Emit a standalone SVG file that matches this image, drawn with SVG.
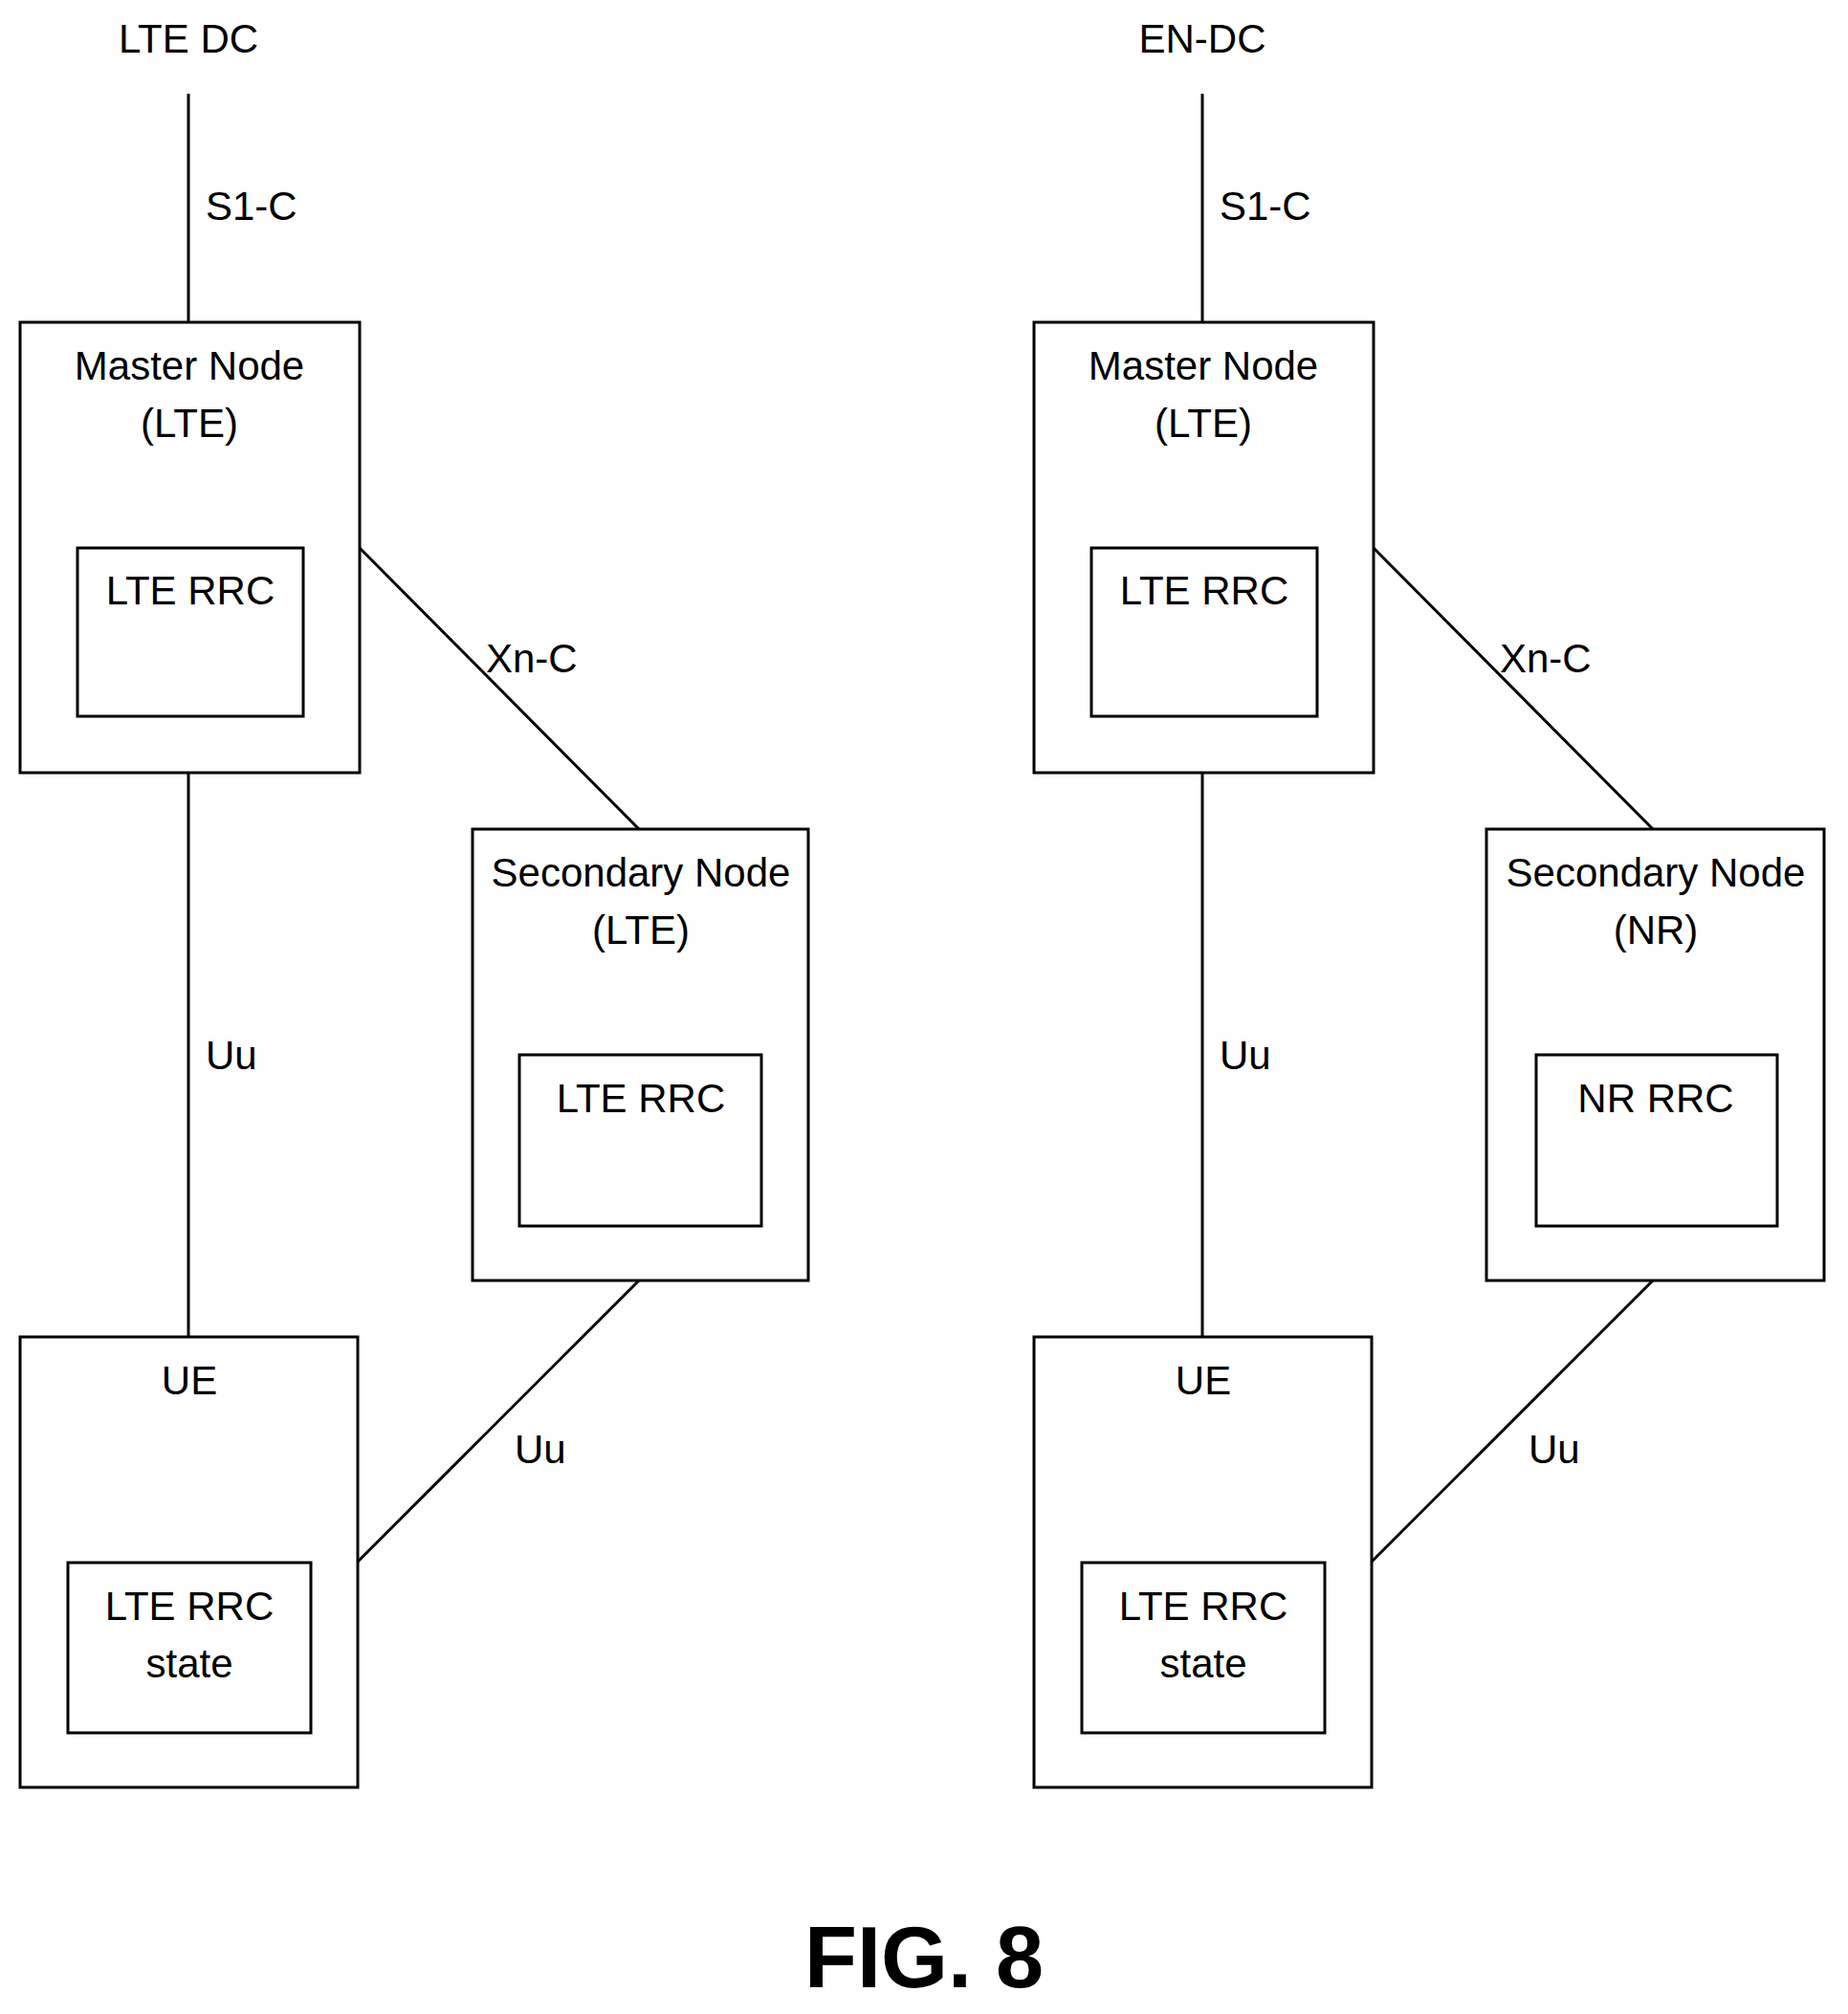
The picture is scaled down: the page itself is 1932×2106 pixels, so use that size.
<svg xmlns="http://www.w3.org/2000/svg" width="1932" height="2106" viewBox="0 0 1932 2106">
<style>
rect{fill:none;stroke:#000;stroke-width:3}
line{stroke:#000;stroke-width:3}
text{font-family:"Liberation Sans",Arial,sans-serif;font-size:42px;text-anchor:middle;fill:#000}
.l{text-anchor:start}
</style>
<rect x="0" y="0" width="1932" height="2106" style="fill:#fff;stroke:none"/>
<g id="connectors">
<line x1="197" y1="98" x2="197" y2="337"/>
<line x1="376" y1="573" x2="668" y2="867"/>
<line x1="197" y1="808" x2="197" y2="1398"/>
<line x1="668" y1="1339" x2="374" y2="1633"/>
<line x1="1257" y1="98" x2="1257" y2="337"/>
<line x1="1436" y1="573" x2="1728" y2="867"/>
<line x1="1257" y1="808" x2="1257" y2="1398"/>
<line x1="1728" y1="1339" x2="1434" y2="1633"/>
</g>
<g id="labels">
<text x="197" y="55">LTE DC</text>
<text class="l" x="215" y="230">S1-C</text>
<text class="l" x="508" y="703">Xn-C</text>
<text class="l" x="215" y="1118">Uu</text>
<text class="l" x="538" y="1530">Uu</text>
<text x="1257" y="55">EN-DC</text>
<text class="l" x="1275" y="230">S1-C</text>
<text class="l" x="1568" y="703">Xn-C</text>
<text class="l" x="1275" y="1118">Uu</text>
<text class="l" x="1598" y="1530">Uu</text>
</g>
<g id="mn1"><rect x="21" y="337" width="355" height="471"/><text x="198" y="397">Master Node</text><text x="198" y="457">(LTE)</text>
<rect x="81" y="573" width="236" height="176"/><text x="199" y="632">LTE RRC</text></g>
<g id="sn1"><rect x="494" y="867" width="351" height="472"/><text x="670" y="927">Secondary Node</text><text x="670" y="987">(LTE)</text>
<rect x="543" y="1103" width="253" height="179"/><text x="670" y="1163">LTE RRC</text></g>
<g id="ue1"><rect x="21" y="1398" width="353" height="471"/><text x="198" y="1458">UE</text>
<rect x="71" y="1634" width="254" height="178"/><text x="198" y="1694">LTE RRC</text><text x="198" y="1754">state</text></g>
<g id="mn2"><rect x="1081" y="337" width="355" height="471"/><text x="1258" y="397">Master Node</text><text x="1258" y="457">(LTE)</text>
<rect x="1141" y="573" width="236" height="176"/><text x="1259" y="632">LTE RRC</text></g>
<g id="sn2"><rect x="1554" y="867" width="353" height="472"/><text x="1731" y="927">Secondary Node</text><text x="1731" y="987">(NR)</text>
<rect x="1606" y="1103" width="252" height="179"/><text x="1731" y="1163">NR RRC</text></g>
<g id="ue2"><rect x="1081" y="1398" width="353" height="471"/><text x="1258" y="1458">UE</text>
<rect x="1131" y="1634" width="254" height="178"/><text x="1258" y="1694">LTE RRC</text><text x="1258" y="1754">state</text></g>
<text x="966" y="2078" style="font-size:90px;font-weight:bold">FIG. 8</text>
</svg>
